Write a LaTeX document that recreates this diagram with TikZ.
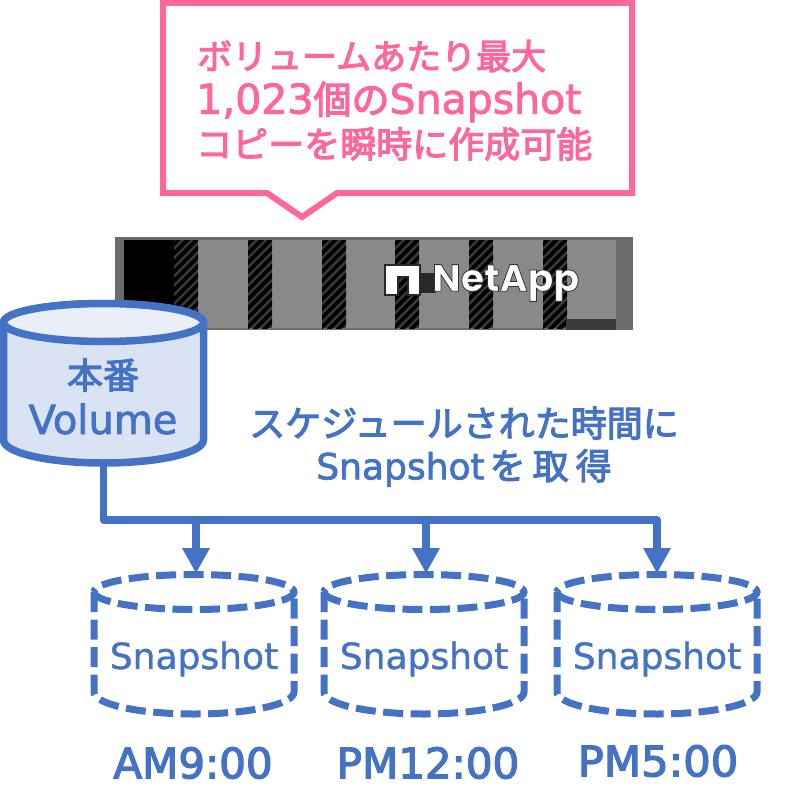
\documentclass[tikz,border=0pt]{standalone}
\usepackage{fontspec}
\setmainfont{Noto Sans CJK JP}
\newfontfamily\jpbold[FakeBold=3]{Noto Sans CJK JP}
\newfontfamily\latinfont[FakeBold=2]{DejaVu Sans}
\newfontfamily\latinheavy[FakeBold=3]{DejaVu Sans}
\newfontfamily\snapfont[FakeBold=1]{DejaVu Sans}
\newfontfamily\logofont{Poppins}
\usetikzlibrary{arrows.meta}
\definecolor{blu}{HTML}{4472C4}
\definecolor{pnk}{HTML}{FF6699}
\definecolor{lblu}{HTML}{DAE3F3}
\definecolor{ltop}{HTML}{E9EEF9}
\definecolor{grA}{HTML}{6B6B6B}
\definecolor{grB}{HTML}{898989}
\definecolor{grC}{HTML}{3A3A3A}
\tikzset{
 x=1pt,y=-1pt,
 pinktext/.style={text=pnk,font=\fontsize{35}{44}\jpbold,anchor=west,inner sep=0},
 bluetext/.style={text=blu,font=\fontsize{36}{44}\jpbold,inner sep=0},
 timetext/.style={text=blu,font=\fontsize{42}{44}\latinheavy,inner sep=0,transform shape},
 snaptext/.style={text=blu,font=\fontsize{36}{36}\snapfont,inner sep=0},
 bus/.style={draw=blu,line width=7.5pt,line join=round},
 feed/.style={draw=blu,line width=7.5pt,-{Triangle[width=28pt,length=25pt,line width=0pt]}},
 dashcyl/.style={draw=blu,line width=7pt,dash pattern=on 20pt off 7.5pt,fill=none},
}
\newcommand{\hatchbar}[1]{%
 \fill[grC] (#1,240) rectangle ++(24,88);
 \begin{scope}
  \clip (#1,240) rectangle ++(24,88);
  \foreach \k in {0,...,12}{
   \draw[black,line width=3.8pt] (#1-5,240+\k*9.2) -- ++(40,-40);
  }
 \end{scope}}
\newcommand{\dcyl}[2]{%
 \draw[dashcyl] (#1-100,592) arc[start angle=180,end angle=-180,x radius=100,y radius=17.5];
 \draw[dashcyl] (#1-100,592) -- (#1-100,692) arc[start angle=180,end angle=0,x radius=100,y radius=22] -- (#1+100,592);
 \node[snaptext] at (#1,659) {Snapshot};
 \coordinate (#2) at (#1,573);}
\begin{document}
\begin{tikzpicture}
\useasboundingbox (0,0) rectangle (791,808);
% callout
\draw[pnk,line width=6pt,line join=miter,fill=white] (163,3) -- (632,3) -- (632,193) -- (337,193) -- (302,217) -- (267,193) -- (163,193) -- cycle;
\node[pinktext] (t1) at (197,56) {ボリュームあたり最大};
\node[pinktext] (t2) at (196,102) {{\fontsize{41}{44}\latinfont 1,023}{\fontsize{38}{44}\jpbold 個の}{\fontsize{41}{44}\latinfont Snapshot}};
\node[pinktext,font=\fontsize{36}{44}\jpbold] (t3) at (196,144) {コピーを瞬時に作成可能};
% storage
\fill[grA] (115,237) rectangle (633,330);
\fill[grB] (124,240) rectangle (616,328);
\fill[black] (124,240) rectangle (174,328);
\foreach \xx in {174,248,322,395,469,543} {\hatchbar{\xx}}
\fill[grC] (566,319) rectangle (616,330);
% logo
\fill[grC!70!black] (418,273) rectangle (436,293);
\draw[grC!70!black,line width=1.6pt,fill=white] (385,265) -- (420,265) -- (420,295) -- (408,295) -- (408,277) -- (398,277) -- (398,295) -- (385,295) -- cycle;
\node[font=\fontsize{38}{38}\logofont\bfseries,inner sep=0,anchor=west] (logo) at (432,283) {\special{pdf:code q 2 Tr 0.8 w 0.2 G 1 g}NetApp\special{pdf:code 0 Tr Q}};
% bus
\coordinate (volbase) at (103.5,450);
\coordinate (busA) at (103.5,520);
\coordinate (j1) at (196,520);
\coordinate (j2) at (426,520);
\coordinate (j3) at (657,520);
\coordinate (j3b) at (657,545);
\draw[bus] (volbase) -- (busA) -- (j3) -- (j3b);
% main volume
\draw[blu,line width=7.5pt,line join=round,fill=lblu] (3.5,322.5) -- (3.5,440) arc[start angle=180,end angle=0,x radius=100,y radius=23] -- (203.5,322.5) arc[start angle=0,end angle=-180,x radius=100,y radius=19] -- cycle;
\draw[blu,line width=7.5pt,fill=ltop] (103.5,322.5) ellipse[x radius=100,y radius=19];
\node[bluetext] (v1) at (103,375) {本番};
\node[bluetext,font=\fontsize{40}{40}\latinfont] (v2) at (103,419) {Volume};
% schedule text
\node[bluetext] (s1) at (464,423) {スケジュールされた時間に};
\node[bluetext] (s2) at (464,468) {{\latinfont Snapshot}\hspace{5pt}を\hspace{7pt}取\hspace{7pt}得};
% snapshots
\dcyl{194}{c1}
\dcyl{424}{c2}
\dcyl{657}{c3}
\draw[feed] (j1) -- (196,573);
\draw[feed] (j2) -- (426,573);
\draw[feed] (j3b) -- (657,573);
\node[timetext,xscale=1.0] (a1) at (193,763) {AM9:00};
\node[timetext,xscale=1.0] (a2) at (428,763) {PM12:00};
\node[timetext,xscale=1.03] (a3) at (658,761) {PM5:00};
\end{tikzpicture}
\end{document}
